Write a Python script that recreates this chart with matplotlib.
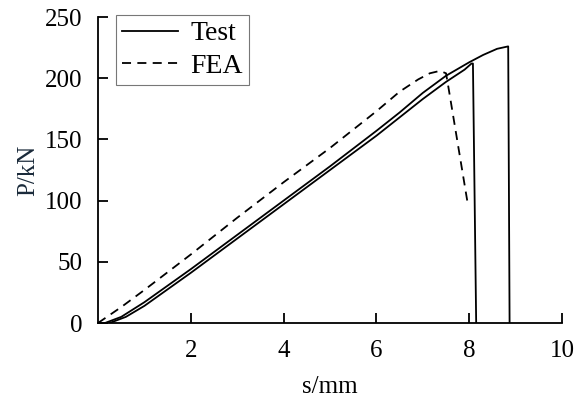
import matplotlib
matplotlib.use("Agg")
import matplotlib.pyplot as plt

plt.rcParams['font.family'] = ['Liberation Serif', 'DejaVu Serif']

# Test specimen 1 (longer)
test1_s = [0.15, 0.5, 1.0, 2.0, 3.0, 4.0, 5.0, 6.0, 6.5, 7.0, 7.5, 8.0, 8.3, 8.6, 8.84, 8.87]
test1_p = [0, 5, 17, 44, 72, 100, 128, 157, 172, 188, 202, 213, 219, 224, 226, 0]
# Test specimen 2 (shorter)
test2_s = [0.25, 0.6, 1.0, 2.0, 3.0, 4.0, 5.0, 6.0, 6.5, 7.0, 7.5, 7.9, 8.05, 8.08, 8.15]
test2_p = [0, 5, 14, 41, 69, 97, 125, 153, 168, 183, 197, 207, 212, 212, 0]
# FEA
fea_s = [0.0, 0.5, 1.0, 2.0, 3.0, 4.0, 5.0, 6.0, 6.5, 6.9, 7.15, 7.37, 7.5, 7.55, 7.97]
fea_p = [0, 13, 27, 56, 86, 115, 143, 173, 189, 199, 204, 206, 204, 193, 97]

xticks = [2, 4, 6, 8, 10]
yticks = [0, 50, 100, 150, 200, 250]

fig = plt.figure(figsize=(5.8, 4.0), dpi=100)
ax = fig.add_axes([0.169, 0.1925, 0.8, 0.765])

ax.plot(test1_s, test1_p, color='black', lw=1.3, label='Test')
ax.plot(test2_s, test2_p, color='black', lw=1.3)
ax.plot(fea_s, fea_p, color='black', lw=1.3, ls=(0, (5, 3.5)), label='FEA')

ax.set_xlim(0, 10)
ax.set_ylim(0, 250)
ax.set_xticks(xticks)
ax.set_yticks(yticks)
ax.spines['top'].set_visible(False)
ax.spines['right'].set_visible(False)
ax.spines['left'].set_linewidth(1.3)
ax.spines['bottom'].set_linewidth(1.3)
ax.tick_params(direction='in', length=7, width=1.3, labelsize=18)
ax.tick_params(axis='x', pad=12)
ax.tick_params(axis='y', pad=11)

ax.set_xlabel('s/mm', fontsize=18, labelpad=10)
ax.set_ylabel('P/kN', fontsize=18, labelpad=4, color='#1a2a3a')

leg = ax.legend(loc='upper left', bbox_to_anchor=(0.039, 1.007), borderaxespad=0,
                fontsize=20, frameon=True, fancybox=False, handlelength=2.0,
                handletextpad=0.45, labelspacing=0.25, borderpad=0.22)
leg.get_frame().set_edgecolor('#555555')
leg.get_frame().set_linewidth(0.8)

fig.savefig('out.png', dpi=100)
